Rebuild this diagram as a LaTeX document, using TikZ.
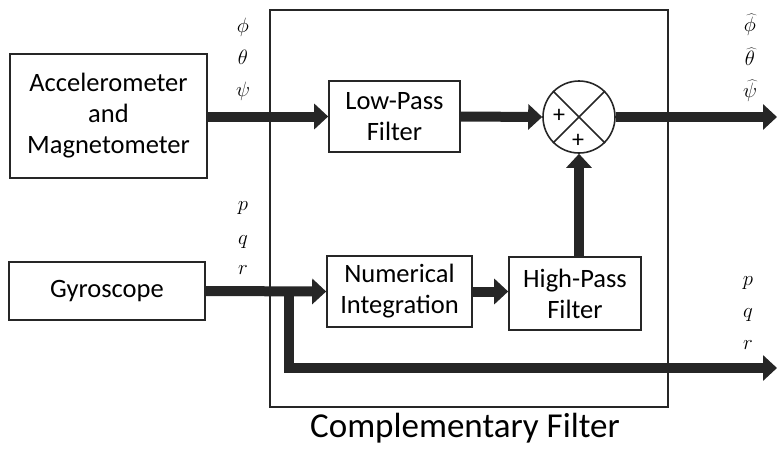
\documentclass[tikz,border=0pt]{standalone}
\usepackage{fontspec}
\setmainfont{Carlito}
\usetikzlibrary{arrows.meta}
\begin{document}
\begin{tikzpicture}[x=1pt,y=-1pt,
  blk/.style={draw=black!85,line width=1.6pt,rectangle,align=center,inner sep=0pt,font=\fontsize{26.5}{31}\selectfont},
  flow/.style={draw=black!85,line width=10pt,-{Triangle[length=14pt,width=25pt]}},
  lbl/.style={inner sep=0pt,font=\fontsize{20}{22}\selectfont}]
\useasboundingbox (0,0) rectangle (777,448);
% big box
\node[draw=black!85,line width=1.6pt,minimum width=398pt,minimum height=397pt,inner sep=0pt] (big) at (469,208.5) {};
\node[inner sep=0pt,font=\fontsize{35}{40}\selectfont] (title) at (465,428) {Complementary Filter};
% blocks
\node[blk,minimum width=197pt,minimum height=124pt] (acc) at (108.5,116) {Accelerometer\\and\\Magnetometer};
\node[blk,minimum width=196pt,minimum height=58pt] (gyro) at (107,291) {Gyroscope};
\node[blk,minimum width=131pt,minimum height=71pt] (lpf) at (394.5,116.5) {Low-Pass\\Filter};
\node[blk,minimum width=145pt,minimum height=71pt] (ni) at (399.5,291.5) {Numerical\\Integration};
\node[blk,minimum width=132pt,minimum height=73pt] (hp) at (575,293.5) {High-Pass\\Filter};
\node[draw=black!85,line width=1.6pt,circle,minimum size=72pt,inner sep=0pt] (sum) at (579,117) {};
\draw[black!85,line width=1.6pt] (sum.north west) -- (sum.south east) (sum.north east) -- (sum.south west);
\node[inner sep=0pt,font=\fontsize{24}{24}\selectfont] (p1) at (559,116) {+};
\node[inner sep=0pt,font=\fontsize{24}{24}\selectfont] (p2) at (578,141) {+};
% coordinates
\coordinate (out1) at (777,117);
\coordinate (out2) at (777,368);
\coordinate (br) at (289,291);
% arrows
\draw[flow] (acc.east |- lpf.west) -- (lpf.west);
\draw[flow] (lpf.east) -- (sum.west);
\draw[flow] (sum.east) -- (out1);
\draw[flow] (gyro.east) -- (ni.west);
\draw[flow] (ni.east) -- (hp.west |- ni.east);
\draw[flow] (hp.north -| sum) -- (sum.south);
\draw[flow,line join=miter] (br) |- (out2);
% labels
\node[lbl] (l1) at (243,27) {$\phi$};
\node[lbl] (l2) at (243,57) {$\theta$};
\node[lbl] (l3) at (243,91) {$\psi$};
\node[lbl] (l4) at (243,208) {$p$};
\node[lbl] (l5) at (243,242) {$q$};
\node[lbl] (l6) at (243,270) {$r$};
\node[lbl] (o1) at (750,25) {$\widehat{\phi}$};
\node[lbl] (o2) at (750,57) {$\widehat{\theta}$};
\node[lbl] (o3) at (750,91) {$\widehat{\psi}$};
\node[lbl] (o4) at (748,283) {$p$};
\node[lbl] (o5) at (748,315) {$q$};
\node[lbl] (o6) at (748,345) {$r$};
\end{tikzpicture}
\end{document}
